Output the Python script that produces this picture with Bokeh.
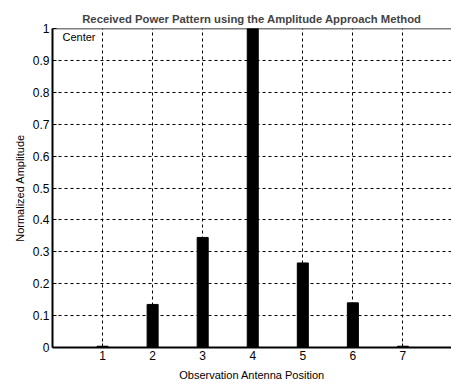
from bokeh.plotting import figure
from bokeh.models import FixedTicker, Range1d, Label, ColumnDataSource, Span
from bokeh.embed import file_html
from bokeh.resources import INLINE

positions = [1, 2, 3, 4, 5, 6, 7]
amplitudes = [0.004, 0.135, 0.345, 1.0, 0.265, 0.14, 0.004]
x_ticks = [1, 2, 3, 4, 5, 6, 7]
y_ticks = [0, 0.1, 0.2, 0.3, 0.4, 0.5, 0.6, 0.7, 0.8, 0.9, 1.0]
y_labels = ["0", "0.1", "0.2", "0.3", "0.4", "0.5", "0.6", "0.7", "0.8", "0.9", "1"]

FONT = "Liberation Sans"

p = figure(width=451, height=383, output_backend="svg", toolbar_location=None,
           x_range=Range1d(0, 7.97), y_range=Range1d(0, 1),
           min_border_left=52, min_border_right=0, min_border_top=28, min_border_bottom=36)

p.title.text = "Received Power Pattern using the Amplitude Approach Method"
p.title.text_font = FONT
p.title.text_font_size = "11.3px"
p.title.text_font_style = "bold"
p.title.align = "center"
p.title.offset = 0
p.title.standoff = 8

src = ColumnDataSource(dict(x=positions, top=amplitudes))
p.vbar(x="x", top="top", width=0.22, source=src, color="black")

p.xaxis.ticker = FixedTicker(ticks=x_ticks)
p.yaxis.ticker = FixedTicker(ticks=y_ticks)
p.yaxis.major_label_overrides = {t: l for t, l in zip(y_ticks, y_labels)}

for ax in (p.xaxis, p.yaxis):
    ax.major_label_text_font = FONT
    ax.major_label_text_font_size = "12px"
    ax.major_label_text_color = "black"
    ax.axis_label_text_font = FONT
    ax.axis_label_text_font_size = "11px"
    ax.axis_label_text_font_style = "normal"
    ax.axis_label_text_color = "black"
    ax.axis_line_color = "black"
    ax.axis_line_width = 2
    ax.major_tick_in = 4
    ax.major_tick_out = 0
    ax.minor_tick_line_color = None
    ax.major_tick_line_color = "black"
    ax.major_label_standoff = 3

p.xaxis.axis_label = "Observation Antenna Position"
p.yaxis.axis_label = "Normalized Amplitude"
p.xaxis.axis_label_standoff = 6
p.yaxis.axis_label_standoff = 4

p.grid.grid_line_color = "black"
p.grid.grid_line_dash = "3 3"
p.grid.grid_line_width = 1
p.outline_line_color = None

p.add_layout(Span(location=1, dimension="width", line_color="black", line_width=1.5))

p.add_layout(Label(x=0.2, y=0.955, text="Center", text_font=FONT,
                   text_font_size="11px", text_color="black"))

open("out.html", "w").write(file_html(p, INLINE))
